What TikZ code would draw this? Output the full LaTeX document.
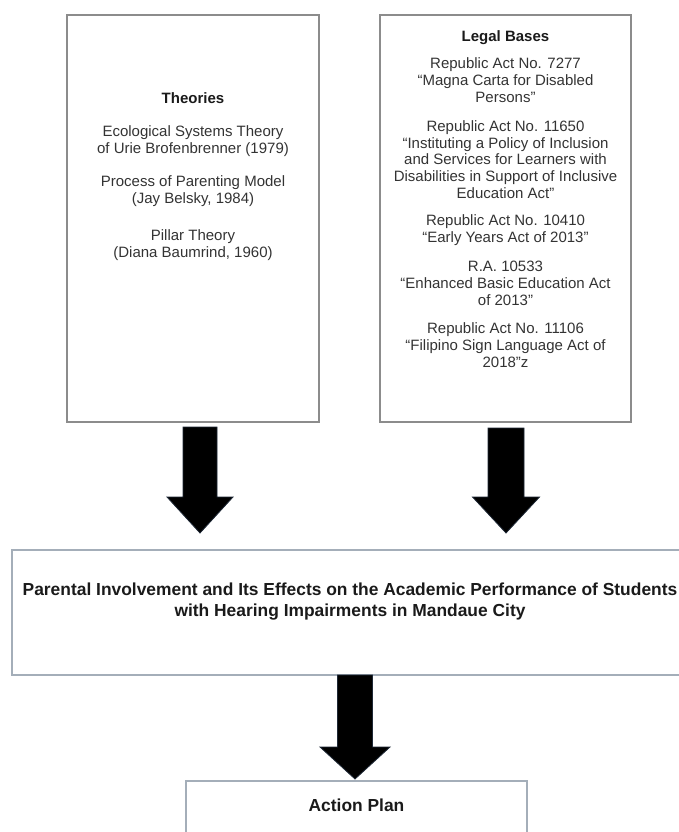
\documentclass[tikz,border=0pt]{standalone}
\usepackage{fontspec}
\setmainfont{Liberation Sans}
\usetikzlibrary{calc}
\definecolor{topframe}{HTML}{8C8C8C}
\definecolor{botframe}{HTML}{A4AEB9}
\definecolor{txt}{HTML}{333333}
\definecolor{boldtxt}{HTML}{1A1A1A}
\definecolor{arrowedge}{HTML}{1E2836}
\newcommand\blockarrow[5]{%
  \filldraw[arrowstyle] ($(#1)+(-#3,0)$) -- ($(#1)+(#3,0)$) -- ($(#2)+(#3,-#5)$)
    -- ($(#2)+(#4,-#5)$) -- (#2) -- ($(#2)+(-#4,-#5)$) -- ($(#2)+(-#3,-#5)$) -- cycle;}
\begin{document}
\begin{tikzpicture}[x=1bp,y=-1bp,
  topbox/.style={draw=topframe, line width=2bp, rectangle, inner sep=0pt, outer sep=0pt},
  botbox/.style={draw=botframe, line width=2bp, rectangle, inner sep=0pt, outer sep=0pt},
  hd/.style={inner sep=0pt, text=boldtxt, font=\fontsize{15bp}{16.8bp}\selectfont\bfseries},
  body/.style={inner sep=0pt, align=center, text=txt, font=\fontsize{15bp}{16.8bp}\selectfont},
  bodyL/.style={inner sep=0pt, align=center, text=txt, font=\fontsize{15bp}{17bp}\selectfont},
  maintext/.style={inner sep=0pt, align=center, text=boldtxt, font=\fontsize{17.4bp}{21bp}\selectfont\bfseries},
  arrowstyle/.style={fill=black, draw=arrowedge, line width=0.8bp, line join=miter}
]
\useasboundingbox (0,0) rectangle (679,832);
% boxes
\node[topbox, minimum width=252bp, minimum height=407bp] (theo) at (193,218.5) {};
\node[topbox, minimum width=251bp, minimum height=407bp] (legal) at (505.5,218.5) {};
\node[botbox, minimum width=676bp, minimum height=125bp] (main) at (350,612.5) {};
\node[botbox, minimum width=341bp, minimum height=99bp] (action) at (356.5,830.5) {};
% theories text
\node[hd] (theoT) at (193,98) {Theories};
\node[bodyL] (th1) at (193,141.5) {Ecological Systems Theory\\of Urie Brofenbrenner (1979)};
\node[bodyL] (th2) at (193,191.5) {Process of Parenting Model\\(Jay Belsky, 1984)};
\node[bodyL] (th3) at (193,245.5) {Pillar Theory\\(Diana Baumrind, 1960)};
% legal text
\node[hd] (legalT) at (505.5,38) {Legal Bases};
\node[body] (lg1) at (505.5,80) {Republic Act No. 7277\\“Magna Carta for Disabled\\Persons”};
\node[body] (lg2) at (505.5,159.5) {Republic Act No. 11650\\“Instituting a Policy of Inclusion\\and Services for Learners with\\Disabilities in Support of Inclusive\\Education Act”};
\node[body] (lg3) at (505.5,230) {Republic Act No. 10410\\“Early Years Act of 2013”};
\node[body] (lg4) at (505.5,283.5) {R.A. 10533\\“Enhanced Basic Education Act\\of 2013”};
\node[body] (lg5) at (505.5,345) {Republic Act No. 11106\\“Filipino Sign Language Act of\\2018”z};
% main text
\node[maintext] (mainT) at (350,601.5) {Parental Involvement and Its Effects on the Academic Performance of Students\\with Hearing Impairments in Mandaue City};
\node[maintext] (actT) at (356.5,805) {Action Plan};
% arrows
\coordinate (s1) at ($(theo.south)+(7,5)$);
\coordinate (t1) at ($(main.north)+(-150,-17)$);
\coordinate (s2) at ($(legal.south)+(0.5,6)$);
\coordinate (t2) at ($(main.north)+(156,-17)$);
\coordinate (s3) at ($(main.south)+(5,0)$);
\coordinate (t3) at ($(action.north)+(-1.5,-2)$);
\blockarrow{s1}{t1}{17}{33}{36}
\blockarrow{s2}{t2}{18}{33.5}{36}
\blockarrow{s3}{t3}{17.5}{35}{32}
\end{tikzpicture}
\end{document}
